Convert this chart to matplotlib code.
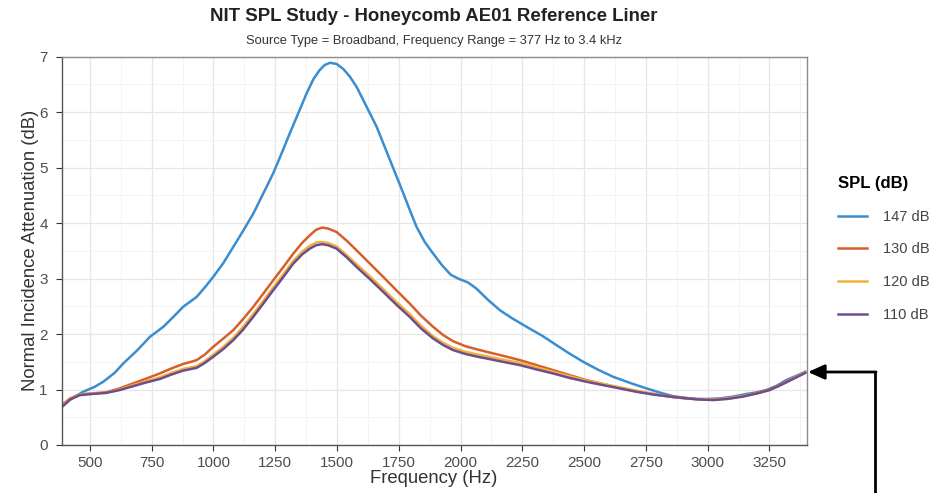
import matplotlib.pyplot as plt
from matplotlib.lines import Line2D
from matplotlib.ticker import MultipleLocator

plt.rcParams['font.family'] = ['Liberation Sans', 'DejaVu Sans']

# =========================
# DATA
# =========================
freq_147 = [386, 430, 473, 520, 554, 600, 635, 690, 743, 797, 840, 877, 932, 965, 999,
            1040, 1080, 1120, 1161, 1200, 1242, 1275, 1309, 1345, 1377, 1405, 1430, 1450,
            1471, 1498, 1525, 1552, 1580, 1606, 1633, 1660, 1687, 1714, 1741, 1768, 1795,
            1822, 1855, 1889, 1925, 1960, 1990, 2030, 2064, 2110, 2159, 2210, 2267, 2330,
            2388, 2440, 2496, 2555, 2617, 2685, 2752, 2810, 2860, 2910, 2954, 3000, 3049,
            3100, 3157, 3200, 3237, 3280, 3318, 3360, 3395]
spl_147 = [0.70, 0.85, 0.96, 1.05, 1.14, 1.30, 1.47, 1.70, 1.95, 2.13, 2.32, 2.49, 2.67, 2.84, 3.03,
           3.28, 3.57, 3.86, 4.17, 4.52, 4.90, 5.25, 5.62, 6.00, 6.34, 6.60, 6.76, 6.85,
           6.89, 6.87, 6.78, 6.64, 6.45, 6.22, 5.98, 5.74, 5.44, 5.14, 4.84, 4.54, 4.23,
           3.93, 3.66, 3.45, 3.24, 3.07, 3.00, 2.93, 2.82, 2.62, 2.43, 2.28, 2.13, 1.97,
           1.80, 1.65, 1.50, 1.36, 1.23, 1.12, 1.02, 0.94, 0.88, 0.85, 0.83, 0.83, 0.84,
           0.87, 0.92, 0.95, 0.99, 1.07, 1.17, 1.25, 1.32]

freq = [386, 420, 460, 510, 567, 620, 675, 730, 783, 830, 877, 910, 932, 965, 999,
        1040, 1080, 1120, 1161, 1200, 1242, 1283, 1323, 1360, 1390, 1415, 1440, 1465,
        1498, 1540, 1579, 1633, 1687, 1740, 1794, 1840, 1889, 1930, 1970, 2020, 2070,
        2105, 2170, 2240, 2300, 2374, 2440, 2509, 2575, 2644, 2710, 2779, 2850, 2914,
        2970, 3022, 3080, 3140, 3200, 3250, 3300, 3350, 3395]
spl_130 = [0.72, 0.84, 0.91, 0.93, 0.95, 1.02, 1.11, 1.20, 1.29, 1.38, 1.46, 1.50, 1.53, 1.63, 1.77,
           1.92, 2.07, 2.27, 2.49, 2.72, 2.97, 3.21, 3.45, 3.65, 3.78, 3.88, 3.92, 3.90,
           3.84, 3.68, 3.51, 3.27, 3.03, 2.79, 2.55, 2.33, 2.13, 1.98, 1.87, 1.78, 1.72,
           1.68, 1.61, 1.53, 1.45, 1.35, 1.26, 1.17, 1.10, 1.03, 0.97, 0.92, 0.87, 0.84,
           0.82, 0.82, 0.84, 0.88, 0.94, 1.00, 1.10, 1.21, 1.31]
spl_120 = [0.70, 0.83, 0.91, 0.93, 0.94, 1.00, 1.08, 1.15, 1.22, 1.30, 1.37, 1.40, 1.42, 1.51, 1.63,
           1.77, 1.93, 2.13, 2.36, 2.59, 2.84, 3.08, 3.32, 3.49, 3.59, 3.65, 3.66, 3.64,
           3.58, 3.42, 3.26, 3.04, 2.81, 2.58, 2.36, 2.15, 1.96, 1.84, 1.75, 1.68, 1.63,
           1.60, 1.54, 1.48, 1.41, 1.32, 1.24, 1.16, 1.10, 1.04, 0.98, 0.92, 0.87, 0.84,
           0.82, 0.82, 0.84, 0.88, 0.93, 0.99, 1.09, 1.21, 1.31]
spl_110 = [0.68, 0.82, 0.90, 0.92, 0.94, 0.99, 1.06, 1.13, 1.19, 1.27, 1.34, 1.37, 1.39, 1.48, 1.59,
           1.73, 1.89, 2.08, 2.31, 2.54, 2.79, 3.03, 3.27, 3.44, 3.54, 3.60, 3.62, 3.60,
           3.54, 3.38, 3.21, 2.99, 2.76, 2.53, 2.31, 2.10, 1.92, 1.80, 1.71, 1.64, 1.59,
           1.56, 1.50, 1.44, 1.37, 1.29, 1.21, 1.14, 1.08, 1.02, 0.96, 0.91, 0.87, 0.84,
           0.82, 0.81, 0.83, 0.87, 0.93, 0.99, 1.09, 1.20, 1.30]

x_ticks = [500, 750, 1000, 1250, 1500, 1750, 2000, 2250, 2500, 2750, 3000, 3250]

# =========================
# PLOT
# =========================
fig = plt.figure(figsize=(9.44, 4.93), dpi=100)
ax = fig.add_axes([0.0654, 0.0974, 0.789, 0.7876])

ax.plot(freq_147, spl_147, color="#3a8dd0", lw=1.8, label="147 dB")
ax.plot(freq, spl_130, color="#d65f2a", lw=1.8, label="130 dB")
ax.plot(freq, spl_120, color="#f3b13a", lw=1.8, label="120 dB")
ax.plot(freq, spl_110, color="#6e4d8e", lw=1.8, label="110 dB")

ax.set_xlim(386, 3400)
ax.set_ylim(0, 7)
ax.set_xticks(x_ticks)
ax.xaxis.set_minor_locator(MultipleLocator(125))
ax.yaxis.set_major_locator(MultipleLocator(1))
ax.yaxis.set_minor_locator(MultipleLocator(0.5))

ax.grid(True, which="major", color="#e6e6e6", lw=0.9)
ax.grid(True, which="minor", color="#f2f2f2", lw=0.6)
ax.set_axisbelow(True)
ax.tick_params(which="major", colors="#333333", labelcolor="#4d4d4d", labelsize=11, length=4)
ax.tick_params(axis="y", pad=6)
ax.tick_params(axis="x", pad=4)
ax.tick_params(which="minor", length=0)
for side in ["top", "right"]:
    ax.spines[side].set_color("#8c8c8c")
    ax.spines[side].set_linewidth(1.0)
for side in ["left", "bottom"]:
    ax.spines[side].set_color("#555555")
    ax.spines[side].set_linewidth(1.0)

ax.set_xlabel("Frequency (Hz)", fontsize=13.3, color="#333333", labelpad=0)
ax.set_ylabel("Normal Incidence Attenuation (dB)", fontsize=13.3, color="#333333", labelpad=0)

fig.text(0.46, 0.967, "NIT SPL Study - Honeycomb AE01 Reference Liner",
         ha="center", va="center", fontsize=13.4, fontweight="bold", color="#222222")
fig.text(0.46, 0.917, "Source Type = Broadband, Frequency Range = 377 Hz to 3.4 kHz",
         ha="center", va="center", fontsize=9.3, color="#333333")

leg = ax.legend(loc="center left", bbox_to_anchor=(1.024, 0.505), frameon=False,
                title="SPL (dB)", fontsize=10.5, labelspacing=1.28, handlelength=2.0,
                handletextpad=1.1, alignment="left")
leg.get_title().set_fontweight("bold")
leg.get_title().set_fontsize(12)
plt.setp(leg.get_texts(), color="#444444")

# arrow pointing at the right end of the curves
y_arrow = 1 - 372 / 493
fig.add_artist(Line2D([875 / 944, 875 / 944], [0.0, y_arrow], transform=fig.transFigure,
                      color="black", lw=2))
ax.annotate("", xy=(808 / 944, y_arrow), xytext=(876 / 944, y_arrow),
            xycoords="figure fraction", textcoords="figure fraction",
            arrowprops=dict(arrowstyle="-|>,head_length=1.0,head_width=0.45",
                            color="black", lw=2, shrinkA=0, shrinkB=0))

plt.savefig("out.png", dpi=100)
plt.close()
